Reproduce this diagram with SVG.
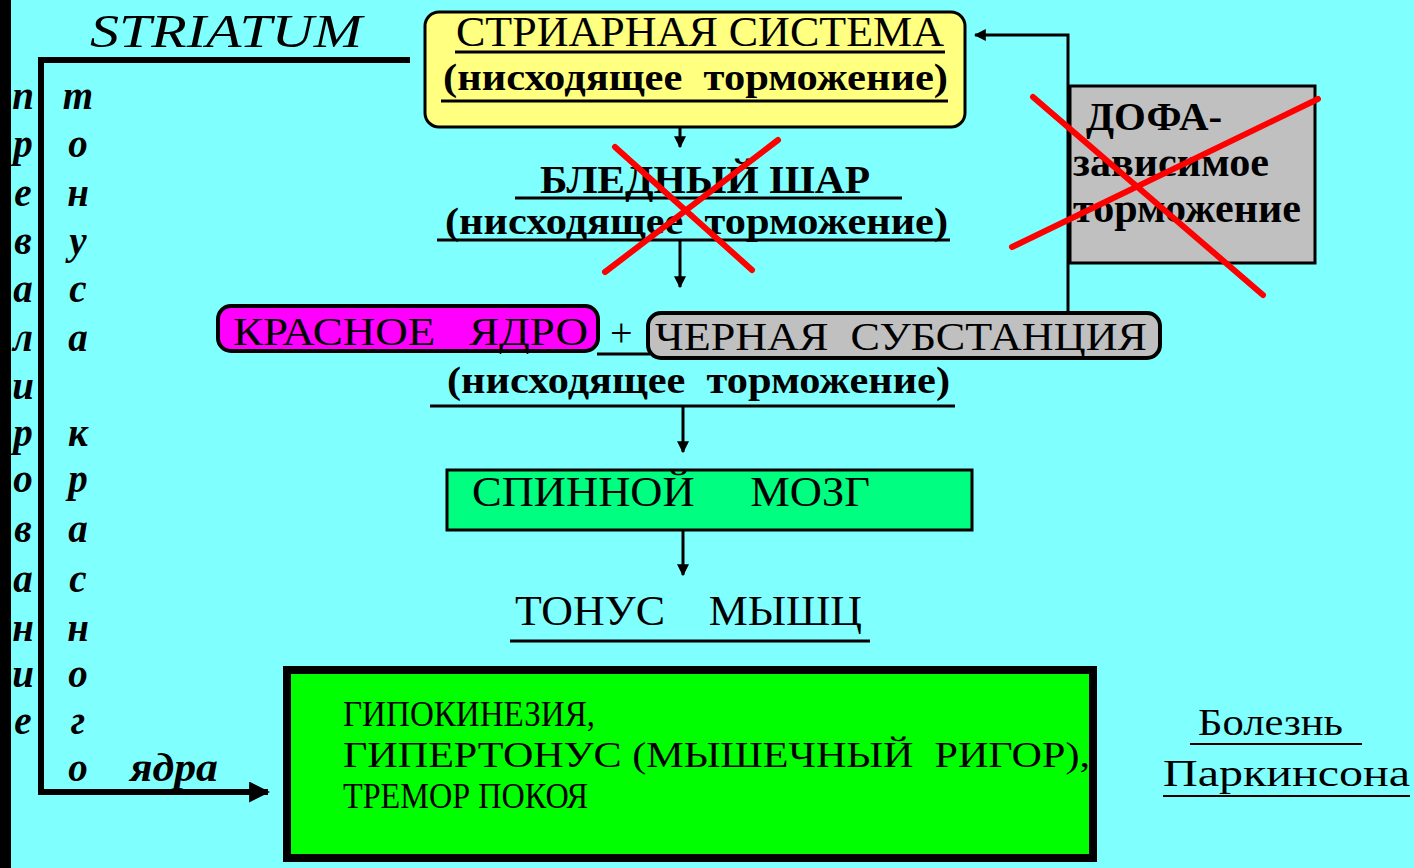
<svg xmlns="http://www.w3.org/2000/svg" width="1414" height="868" viewBox="0 0 1414 868">
<defs>
<marker id="ah" viewBox="0 0 10 10" refX="9" refY="5" markerWidth="4" markerHeight="4" orient="auto" markerUnits="strokeWidth">
<path d="M0,0 L10,5 L0,10 z" fill="#000"/>
</marker>
<marker id="ahb" viewBox="0 0 10 10" refX="9" refY="5" markerWidth="3.5" markerHeight="3.5" orient="auto" markerUnits="strokeWidth">
<path d="M0,0 L10,5 L0,10 z" fill="#000"/>
</marker>
</defs>
<style>
.s{font-family:"Liberation Serif","Times New Roman",serif;fill:#000;white-space:pre}
.b{font-weight:bold}
.it{font-style:italic}
.col{font-family:"Liberation Serif","Times New Roman",serif;font-weight:bold;font-style:italic;font-size:39px;text-anchor:middle}
.ln{stroke:#000;stroke-width:3;fill:none}
.ar{stroke:#000;stroke-width:3;fill:none;marker-end:url(#ah)}
.x{stroke:#FF0000;stroke-width:6;stroke-linecap:round}
</style>
<rect width="1414" height="868" fill="#80FFFF"/>
<rect x="0" y="0" width="11" height="868" fill="#000"/>

<g id="connectors">
<path d="M410,60 H41 V792 H268" stroke="#000" stroke-width="6" fill="none" marker-end="url(#ahb)"/>
<line class="ar" x1="680" y1="101" x2="680" y2="147"/>
<line class="ar" x1="680" y1="240" x2="680" y2="287"/>
<line class="ar" x1="683" y1="406" x2="683" y2="452"/>
<line class="ar" x1="683" y1="530" x2="683" y2="575"/>
<polyline class="ar" points="1068,313 1068,35 975,35"/>
<line class="ln" x1="597" y1="354" x2="650" y2="354"/>
</g>

<g id="striatum-label">
<text class="s it" x="90" y="47" font-size="46" textLength="272" lengthAdjust="spacingAndGlyphs">STRIATUM</text>
</g>

<g id="col-prevalirovanie">
<text class="col" x="23" y="109">п</text>
<text class="col" x="23" y="157">р</text>
<text class="col" x="23" y="206">е</text>
<text class="col" x="23" y="254">в</text>
<text class="col" x="23" y="302">а</text>
<text class="col" x="23" y="351">л</text>
<text class="col" x="23" y="399">и</text>
<text class="col" x="23" y="446">р</text>
<text class="col" x="23" y="492">о</text>
<text class="col" x="23" y="542">в</text>
<text class="col" x="23" y="592">а</text>
<text class="col" x="23" y="641">н</text>
<text class="col" x="23" y="687">и</text>
<text class="col" x="23" y="734">е</text>
</g>

<g id="col-tonusa">
<text class="col" x="78" y="109">т</text>
<text class="col" x="78" y="157">о</text>
<text class="col" x="78" y="206">н</text>
<text class="col" x="78" y="254">у</text>
<text class="col" x="78" y="302">с</text>
<text class="col" x="78" y="351">а</text>
<text class="col" x="78" y="446">к</text>
<text class="col" x="78" y="492">р</text>
<text class="col" x="78" y="542">а</text>
<text class="col" x="78" y="592">с</text>
<text class="col" x="78" y="641">н</text>
<text class="col" x="78" y="687">о</text>
<text class="col" x="78" y="734">г</text>
<text class="col" x="78" y="781">о</text>
<text class="s b it" x="130" y="781" font-size="39" textLength="88" lengthAdjust="spacingAndGlyphs">ядра</text>
</g>

<g id="striarnaya">
<rect x="425" y="12" width="540" height="115" rx="14" fill="#FFFF80" stroke="#000" stroke-width="3"/>
<text class="s" x="456" y="46" font-size="42" textLength="488" lengthAdjust="spacingAndGlyphs">СТРИАРНАЯ СИСТЕМА</text>
<line class="ln" x1="455" y1="52" x2="945" y2="52"/>
<text class="s b" x="443" y="90" font-size="38" textLength="505" lengthAdjust="spacingAndGlyphs">(нисходящее  торможение)</text>
<line class="ln" x1="441" y1="101" x2="948" y2="101"/>
</g>

<g id="blednyi-shar">
<text class="s b" x="540" y="193" font-size="40" textLength="330" lengthAdjust="spacingAndGlyphs">БЛЕДНЫЙ ШАР</text>
<line class="ln" x1="515" y1="198" x2="902" y2="198"/>
<text class="s b" x="445" y="234" font-size="38" textLength="503" lengthAdjust="spacingAndGlyphs">(нисходящее  торможение)</text>
<line class="ln" x1="437" y1="240" x2="950" y2="240"/>
<line class="x" x1="615" y1="147" x2="752" y2="270"/>
<line class="x" x1="778" y1="140" x2="605" y2="272"/>
</g>

<g id="dofa">
<rect x="1070" y="86" width="245" height="177" fill="#C0C0C0" stroke="#000" stroke-width="3"/>
<text class="s b" x="1086" y="130" font-size="40" textLength="136" lengthAdjust="spacingAndGlyphs">ДОФА-</text>
<text class="s b" x="1073" y="176" font-size="40" textLength="196" lengthAdjust="spacingAndGlyphs">зависимое</text>
<text class="s b" x="1073" y="222" font-size="40" textLength="228" lengthAdjust="spacingAndGlyphs">торможение</text>
<line class="x" x1="1033" y1="97" x2="1263" y2="295"/>
<line class="x" x1="1318" y1="99" x2="1012" y2="247"/>
</g>

<g id="krasnoe-yadro">
<rect x="218" y="306" width="380" height="45" rx="13" fill="#FF00FF" stroke="#000" stroke-width="4"/>
<text class="s" x="233" y="345" font-size="40" textLength="355" lengthAdjust="spacingAndGlyphs">КРАСНОЕ   ЯДРО</text>
</g>
<g id="plus">
<text class="s" x="610" y="346" font-size="40">+</text>
</g>
<g id="chernaya">
<rect x="648" y="313" width="512" height="45" rx="13" fill="#C0C0C0" stroke="#000" stroke-width="4"/>
<text class="s" x="655" y="350" font-size="40" textLength="492" lengthAdjust="spacingAndGlyphs">ЧЕРНАЯ  СУБСТАНЦИЯ</text>
</g>
<g id="nishod3">
<text class="s b" x="447" y="393" font-size="38" textLength="503" lengthAdjust="spacingAndGlyphs">(нисходящее  торможение)</text>
<line class="ln" x1="430" y1="406" x2="955" y2="406"/>
</g>

<g id="spinnoi">
<rect x="447" y="470" width="525" height="60" fill="#00FF80" stroke="#000" stroke-width="3"/>
<text class="s" x="472" y="506" font-size="42" textLength="398" lengthAdjust="spacingAndGlyphs">СПИННОЙ     МОЗГ</text>
</g>

<g id="tonus">
<text class="s" x="515" y="625" font-size="42" textLength="347" lengthAdjust="spacingAndGlyphs">ТОНУС    МЫШЦ</text>
<line class="ln" x1="510" y1="641" x2="870" y2="641"/>
</g>

<g id="symptoms">
<rect x="287" y="670" width="806" height="188" fill="#00FF00" stroke="#000" stroke-width="8"/>
<text class="s" x="343" y="726" font-size="35" textLength="252" lengthAdjust="spacingAndGlyphs">ГИПОКИНЕЗИЯ,</text>
<text class="s" x="343" y="767" font-size="35" textLength="747" lengthAdjust="spacingAndGlyphs">ГИПЕРТОНУС (МЫШЕЧНЫЙ  РИГОР),</text>
<text class="s" x="343" y="808" font-size="35" textLength="245" lengthAdjust="spacingAndGlyphs">ТРЕМОР ПОКОЯ</text>
</g>

<g id="parkinson">
<text class="s" x="1198" y="735" font-size="38" textLength="145" lengthAdjust="spacingAndGlyphs">Болезнь</text>
<line stroke="#000" stroke-width="2" x1="1190" y1="744" x2="1362" y2="744"/>
<text class="s" x="1163" y="786" font-size="38" textLength="247" lengthAdjust="spacingAndGlyphs">Паркинсона</text>
<line stroke="#000" stroke-width="2" x1="1163" y1="796" x2="1410" y2="796"/>
</g>
</svg>
